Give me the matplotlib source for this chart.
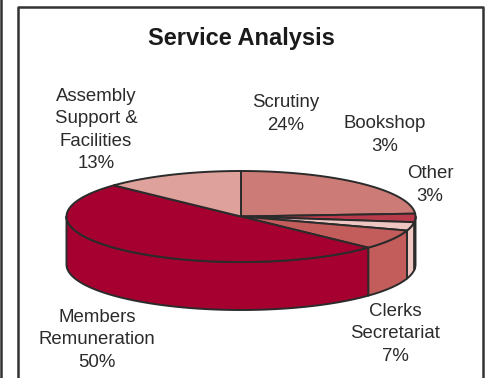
import numpy as np
import matplotlib
matplotlib.use('Agg')
import matplotlib.pyplot as plt
from matplotlib.patches import Polygon

plt.rcParams['font.family'] = ['Liberation Sans', 'DejaVu Sans']

services = ['Scrutiny', 'Bookshop', 'Other', 'Clerks\nSecretariat',
            'Members\nRemuneration', 'Assembly\nSupport &\nFacilities']
shares = [24, 3, 3, 7, 50, 13]
colors = ['#CC7B76', '#B93B4B', '#EEC6C2', '#C25D5C', '#A5002F', '#DFA19B']
label_pos = [(286, 114), (385, 135), (430, 185), (395, 334), (97, 340), (96, 130)]

cx, cy = 241, 216.5
rx, ry = 174.5, 45.5
depth = 48
edge = '#2b2b2b'

fig = plt.figure(figsize=(4.87, 3.78), dpi=100)
ax = fig.add_axes([0, 0, 1, 1])
ax.set_xlim(0, 487)
ax.set_ylim(378, 0)
ax.axis('off')

# frame around the chart, cut off at the bottom of the picture
ax.plot([17.5, 17.5, 483, 483], [380, 6.5, 6.5, 380], color='#333333', lw=1.8)
ax.plot([0.5, 0.5], [0, 378], color='#333333', lw=1.8)


def rim(a, b):
    t = np.radians(np.linspace(a, b, 120))
    return cx + rx * np.sin(t), cy - ry * np.cos(t)


bounds = np.cumsum([0] + shares) * 3.6

# side wall first, only the part that faces the viewer
for i in range(len(shares)):
    a, b = max(bounds[i], 90), min(bounds[i + 1], 270)
    if a >= b:
        continue
    x, y = rim(a, b)
    pts = np.r_[np.c_[x, y], np.c_[x[::-1], y[::-1] + depth]]
    ax.add_patch(Polygon(pts, closed=True, fc=colors[i], ec=edge, lw=1.4, joinstyle='round'))

# top face
for i in range(len(shares)):
    x, y = rim(bounds[i], bounds[i + 1])
    pts = np.r_[[[cx, cy]], np.c_[x, y]]
    ax.add_patch(Polygon(pts, closed=True, fc=colors[i], ec=edge, lw=1.4, joinstyle='round'))

for name, val, (lx, ly) in zip(services, shares, label_pos):
    ax.text(lx, ly, f'{name}\n{val}%', ha='center', va='center', fontsize=13.4,
            color='#2b2b2b', linespacing=1.42)

ax.text(241, 38.5, 'Service Analysis', ha='center', va='center', fontsize=17,
        fontweight='bold', color='#1a1a1a')

fig.savefig('out.png', dpi=100)
